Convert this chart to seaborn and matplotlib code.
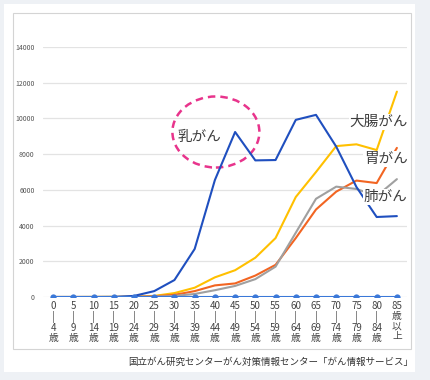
# 年齢階級別 がん罹患数（乳がん・大腸がん・胃がん・肺がん）

import matplotlib.pyplot as plt
import matplotlib.patches as mpatches
import seaborn as sns
import pandas as pd

ages = ["0\n|\n4\n歳", "5\n|\n9\n歳", "10\n|\n14\n歳", "15\n|\n19\n歳", "20\n|\n24\n歳",
        "25\n|\n29\n歳", "30\n|\n34\n歳", "35\n|\n39\n歳", "40\n|\n44\n歳", "45\n|\n49\n歳",
        "50\n|\n54\n歳", "55\n|\n59\n歳", "60\n|\n64\n歳", "65\n|\n69\n歳", "70\n|\n74\n歳",
        "75\n|\n79\n歳", "80\n|\n84\n歳", "85\n歳\n以\n上"]
breast = [0, 0, 0, 5, 60, 330, 950, 2690, 6550, 9240, 7650, 7670, 9920, 10200, 8420, 6160, 4480, 4530]
colon = [0, 0, 5, 10, 20, 60, 220, 520, 1100, 1500, 2200, 3300, 5600, 7000, 8450, 8550, 8230, 11500]
stomach = [0, 0, 0, 0, 10, 40, 120, 330, 650, 760, 1200, 1800, 3300, 4900, 5900, 6520, 6380, 8350]
lung = [0, 0, 0, 0, 5, 20, 60, 170, 380, 620, 1000, 1700, 3600, 5500, 6180, 6050, 5650, 6600]
zero = [0] * len(ages)

pos = list(range(len(ages)))
df = pd.DataFrame({
    "pos": pos * 4,
    "count": colon + stomach + lung + breast,
    "site": ["大腸がん"] * 18 + ["胃がん"] * 18 + ["肺がん"] * 18 + ["乳がん"] * 18,
})
colors = {"大腸がん": "#ffc000", "胃がん": "#f26522", "肺がん": "#a0a0a0", "乳がん": "#1f4fbf"}

sns.set_style("white")
plt.rcParams['font.family'] = ['Noto Sans CJK JP', 'DejaVu Sans']

fig = plt.figure(figsize=(4.3, 3.8), dpi=100)
fig.patch.set_facecolor("#eef1f5")
fig.patches.append(mpatches.Rectangle((4 / 430, 1 - 372 / 380), 411 / 430, 368 / 380,
                                      transform=fig.transFigure, facecolor="white",
                                      edgecolor="none", zorder=-2))
fig.patches.append(mpatches.Rectangle((13 / 430, 1 - 349 / 380), 398 / 430, 336 / 380,
                                      transform=fig.transFigure, facecolor="none",
                                      edgecolor="#d4d4d4", lw=0.8, zorder=-1))

ax = fig.add_axes([43 / 430, 1 - 297 / 380, 364 / 430, 250 / 380])
ax.set_facecolor("none")
sns.lineplot(data=df, x="pos", y="count", hue="site", palette=colors, lw=1.5,
             legend=False, ax=ax)
sns.lineplot(x=pos, y=zero, color="#3b78d8", lw=1.5, marker="o", markersize=4.5,
             markeredgewidth=0, ax=ax)

ax.set_xlim(-0.5, 17.5)
ax.set_ylim(0, 14000)
ax.set_yticks(range(0, 14001, 2000))
ax.tick_params(axis="y", labelsize=5, colors="#555555", length=0, pad=6)
ax.set_xticks(pos)
ax.set_xticklabels(ages, fontsize=7, color="#444444", linespacing=1.0)
ax.tick_params(axis="x", length=0, pad=3)
ax.yaxis.grid(True, color="#e3e3e3", lw=0.9)
for s in ax.spines.values():
    s.set_visible(False)
ax.set_xlabel("")
ax.set_ylabel("")

ax.add_patch(mpatches.Ellipse((8.05, 9240), 4.3, 3980, fill=False, edgecolor="#e8348c",
                              lw=1.8, ls=(0, (3, 2)), clip_on=False))
ax.text(7.25, 8950, "乳がん", fontsize=10.5, color="#404040", ha="center", va="center")
ax.text(16.1, 9800, "大腸がん", fontsize=10.5, color="#404040", ha="center", va="center",
        bbox=dict(facecolor="white", edgecolor="none", pad=0.5))
ax.text(16.45, 7730, "胃がん", fontsize=10.5, color="#404040", ha="center", va="center",
        bbox=dict(facecolor="white", edgecolor="none", pad=0.5))
ax.text(16.45, 5600, "肺がん", fontsize=10.5, color="#404040", ha="center", va="center",
        bbox=dict(facecolor="white", edgecolor="none", pad=0.5))

fig.text(413 / 430, 1 - 362 / 380, "国立がん研究センターがん対策情報センター「がん情報サービス」",
         fontsize=6.85, color="#333333", ha="right", va="center")

fig.savefig("out.png", dpi=100)
